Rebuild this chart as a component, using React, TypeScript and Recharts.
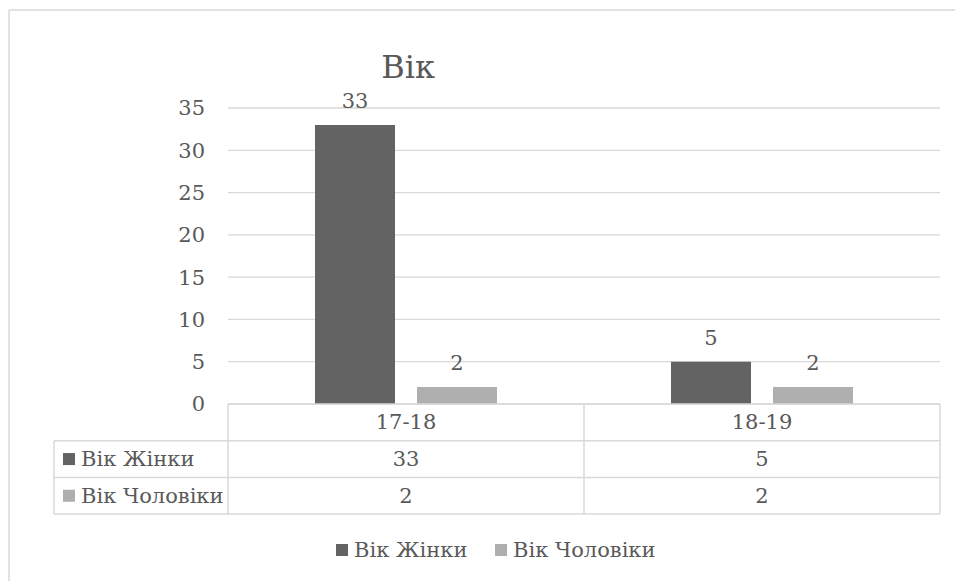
import React from "react";
import { BarChart, Bar, XAxis, YAxis, CartesianGrid, LabelList } from "recharts";

const categories = ["17-18", "18-19"];
const womenValues = [33, 5];
const menValues = [2, 2];
const seriesNames = ["Вік Жінки", "Вік Чоловіки"];
const yTicks = [0, 5, 10, 15, 20, 25, 30, 35];
const title = "Вік";

const data = categories.map((c, i) => ({ cat: c, women: womenValues[i], men: menValues[i] }));

const FONT = "DejaVu Serif";
const TEXT = "#595959";
const GRID = "#d9d9d9";
const C1 = "#636363";
const C2 = "#afafaf";

const W = 955;
const H = 581;
const PLOT_L = 228;
const PLOT_R = 940;
const PLOT_T = 108;
const PLOT_B = 404;
const ROW_H = 36.7;
const TABLE_L = 54;
const FS = 21;

export default function App() {
  const catW = (PLOT_R - PLOT_L) / categories.length;
  const rowYs = [PLOT_B, PLOT_B + ROW_H, PLOT_B + 2 * ROW_H, PLOT_B + 3 * ROW_H];
  const seriesValues = [womenValues, menValues];
  const colors = [C1, C2];
  return (
    <div style={{ position: "absolute", left: 0, top: 0, width: W, height: H, background: "#fff", fontFamily: FONT }}>
      <BarChart
        width={W}
        height={H}
        data={data}
        margin={{ top: PLOT_T, right: W - PLOT_R, bottom: H - PLOT_B - 36, left: 0 }}
        barGap={22}
        barSize={80}
      >
        <CartesianGrid vertical={false} stroke={GRID} strokeWidth={1.3} />
        <XAxis
          dataKey="cat"
          height={36}
          axisLine={false}
          tickLine={false}
          tick={(p: any) => (
            <text x={p.x} y={PLOT_B + ROW_H / 2} textAnchor="middle" dominantBaseline="central" fill={TEXT} fontSize={FS} fontFamily={FONT}>
              {p.payload.value}
            </text>
          )}
        />
        <YAxis
          width={PLOT_L}
          domain={[0, 35]}
          ticks={yTicks}
          axisLine={false}
          tickLine={false}
          tickSize={0}
          tickMargin={23}
          tick={{ fill: TEXT, fontSize: FS, fontFamily: FONT }}
          interval={0}
        />
        <Bar dataKey="women" fill={C1} isAnimationActive={false}>
          <LabelList dataKey="women" position="top" offset={17} fill={TEXT} fontSize={FS} fontFamily={FONT} />
        </Bar>
        <Bar dataKey="men" fill={C2} isAnimationActive={false}>
          <LabelList dataKey="men" position="top" offset={17} fill={TEXT} fontSize={FS} fontFamily={FONT} />
        </Bar>
      </BarChart>
      <svg width={W} height={H} style={{ position: "absolute", left: 0, top: 0, pointerEvents: "none" }}>
        <line x1={9} y1={10} x2={W} y2={10} stroke={GRID} strokeWidth={1.5} />
        <line x1={9} y1={10} x2={9} y2={H} stroke={GRID} strokeWidth={1.5} />
        <text x={408} y={78} textAnchor="middle" fill={TEXT} fontSize={32} fontFamily={FONT}>{title}</text>
        <line x1={PLOT_L} y1={rowYs[0]} x2={PLOT_R} y2={rowYs[0]} stroke={GRID} strokeWidth={1.5} />
        {[1, 2, 3].map((r) => (
          <line key={r} x1={TABLE_L} y1={rowYs[r]} x2={PLOT_R} y2={rowYs[r]} stroke={GRID} strokeWidth={1.5} />
        ))}
        <line x1={TABLE_L} y1={rowYs[1]} x2={TABLE_L} y2={rowYs[3]} stroke={GRID} strokeWidth={1.5} />
        {categories.map((_, i) => (
          <line key={i} x1={PLOT_L + catW * i} y1={rowYs[0]} x2={PLOT_L + catW * i} y2={rowYs[3]} stroke={GRID} strokeWidth={1.5} />
        ))}
        <line x1={PLOT_R} y1={rowYs[0]} x2={PLOT_R} y2={rowYs[3]} stroke={GRID} strokeWidth={1.5} />
        {seriesNames.map((name, s) => (
          <g key={s}>
            <rect x={63} y={rowYs[s + 1] + ROW_H / 2 - 6} width={12} height={12} fill={colors[s]} />
            <text x={81} y={rowYs[s + 1] + ROW_H / 2} dominantBaseline="central" fill={TEXT} fontSize={FS} fontFamily={FONT}>{name}</text>
            {seriesValues[s].map((v, i) => (
              <text key={i} x={PLOT_L + catW * (i + 0.5)} y={rowYs[s + 1] + ROW_H / 2} textAnchor="middle" dominantBaseline="central" fill={TEXT} fontSize={FS} fontFamily={FONT}>{v}</text>
            ))}
          </g>
        ))}
        <rect x={336} y={544} width={12} height={12} fill={C1} />
        <text x={354} y={550} dominantBaseline="central" fill={TEXT} fontSize={FS} fontFamily={FONT}>{seriesNames[0]}</text>
        <rect x={495} y={544} width={12} height={12} fill={C2} />
        <text x={513} y={550} dominantBaseline="central" fill={TEXT} fontSize={FS} fontFamily={FONT}>{seriesNames[1]}</text>
      </svg>
    </div>
  );
}
